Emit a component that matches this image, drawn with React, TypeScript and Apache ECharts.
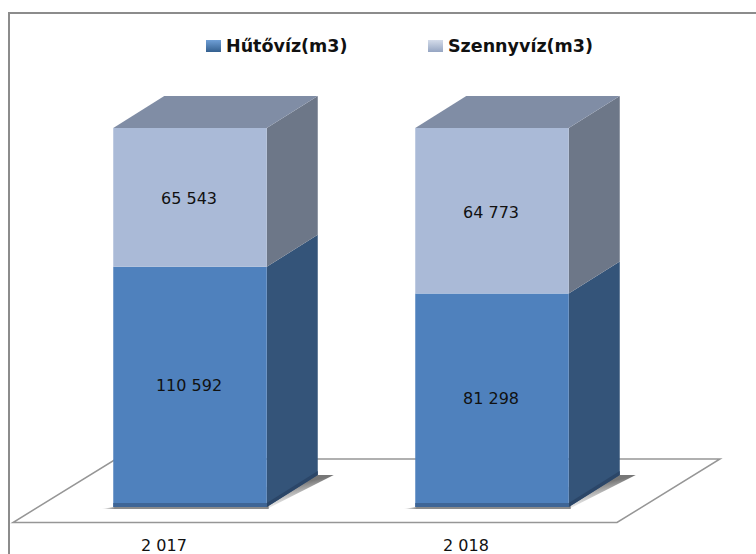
import React, { useEffect, useRef } from "react";
import * as echarts from "echarts";

const categories = ["2 017", "2 018"];
const seriesNames = ["Hűtővíz(m3)", "Szennyvíz(m3)"];
const hutoviz = [110592, 81298];
const szennyviz = [65543, 64773];
const hutovizLabels = ["110 592", "81 298"];
const szennyvizLabels = ["65 543", "64 773"];

const W = 756;
const H = 554;
const DX = 51;
const DY = 32;
const BAR = 153.5;
const OFFSET = 26;
const FOOT = 6;
const FONT = "DejaVu Sans";

const C1 = "#4f81bd", C1Side = "#345479", C1Top = "#3e6596";
const C2 = "#aabad7", C2Side = "#6d7788", C2Top = "#808da5";

function share(i: number, which: number) {
  const total = hutoviz[i] + szennyviz[i];
  return (which === 0 ? hutoviz[i] : szennyviz[i]) / total;
}

const fade = (x: number, y: number, x2: number, y2: number) => ({
  type: "linear", x, y, x2, y2,
  colorStops: [{ offset: 0, color: "rgba(95,95,95,0.85)" }, { offset: 1, color: "rgba(160,160,160,0)" }],
});

const makeRender = (which: number, labels: string[], fill: string, side: string, top: string) =>
  (params: any, api: any) => {
    const i = api.value(0);
    const start = api.value(1);
    const end = api.value(2);
    const p0 = api.coord([i, start]);
    const p1 = api.coord([i, end]);
    const cx = p0[0] + OFFSET;
    const x0 = cx - BAR / 2;
    const x1 = cx + BAR / 2;
    const yb = which === 0 ? p0[1] + FOOT : p0[1];
    const yt = p1[1];
    const children: any[] = [];
    if (which === 0) {
      children.push({
        type: "polygon",
        shape: { points: [[x1, yb + 2], [x1, yb - 20], [x1 + DX, yb - DY], [x1 + DX + 16, yb - DY]] },
        style: { fill: fade(0.1, 0.4, 0.35, 1) },
        silent: true,
      });
      children.push({
        type: "polygon",
        shape: { points: [[x0 - 12, yb + 2], [x0 + 8, yb - 1], [x1 + 2, yb - 1], [x1 + 2, yb + 2]] },
        style: {
          fill: {
            type: "linear", x: 0, y: 0, x2: 1, y2: 0,
            colorStops: [
              { offset: 0, color: "rgba(130,130,130,0)" },
              { offset: 0.08, color: "rgba(110,110,110,0.8)" },
              { offset: 1, color: "rgba(110,110,110,0.8)" },
            ],
          },
        },
        silent: true,
      });
    }
    children.push({
      type: "polygon",
      shape: { points: [[x1, yb], [x1 + DX, yb - DY], [x1 + DX, yt - DY], [x1, yt]] },
      style: { fill: side },
    });
    if (which === 1) {
      children.push({
        type: "polygon",
        shape: { points: [[x0, yt], [x0 + DX, yt - DY], [x1 + DX, yt - DY], [x1, yt]] },
        style: { fill: top },
      });
    }
    children.push({
      type: "rect",
      shape: { x: x0, y: yt, width: BAR, height: yb - yt },
      style: { fill },
    });
    if (which === 0) {
      children.push({
        type: "rect",
        shape: { x: x0, y: yb - 4, width: BAR, height: 4 },
        style: { fill: top },
      });
      children.push({
        type: "polygon",
        shape: { points: [[x1, yb], [x1 + DX, yb - DY], [x1 + DX, yb - DY - 4], [x1, yb - 4]] },
        style: { fill: "#2b4668" },
      });
    }
    children.push({
      type: "text",
      x: cx - 1,
      y: (p0[1] + yt) / 2 + 1.5,
      style: { text: labels[i], fill: "#111111", fontFamily: FONT, fontSize: 16, align: "center", verticalAlign: "middle" },
    });
    return { type: "group", children };
  };

const floorRender = (params: any, api: any) => {
  const c0 = api.coord([0, 0]);
  const c1 = api.coord([1, 0]);
  const band = c1[0] - c0[0];
  const left = c0[0] - band / 2;
  const right = c1[0] + band / 2;
  const y = c0[1] + 21.5;
  const yb = c0[1] - 42;
  return {
    type: "polygon",
    shape: { points: [[left, y], [right, y], [right + 103, yb], [left + 103, yb]] },
    style: { fill: "#ffffff", stroke: "#969696", lineWidth: 1.5 },
    silent: true,
  };
};

function rows(which: number) {
  return categories.map((_, i) => {
    const start = which === 0 ? 0 : share(i, 0);
    const end = start + share(i, which);
    return [i, start, end];
  });
}

const swatch = (c1: string, c2: string) => ({
  type: "linear", x: 0, y: 0, x2: 0, y2: 1,
  colorStops: [{ offset: 0, color: c1 }, { offset: 1, color: c2 }],
});

export default function App() {
  const ref = useRef<HTMLDivElement>(null);
  useEffect(() => {
    const chart = echarts.init(ref.current!, undefined, { renderer: "svg" });
    chart.setOption({
      animation: false,
      backgroundColor: "#ffffff",
      grid: { left: 13, right: 139, top: 128, bottom: 53 },
      xAxis: {
        type: "category",
        data: categories,
        axisLine: { show: false },
        axisTick: { show: false },
        axisLabel: { color: "#111111", fontFamily: FONT, fontSize: 16, margin: 36 },
      },
      yAxis: { type: "value", min: 0, max: 1, show: false },
      graphic: [
        {
          type: "polyline",
          silent: true,
          z: -10,
          shape: { points: [[9, 560], [9, 13], [756, 13]] },
          style: { fill: "none", stroke: "#8c8c8c", lineWidth: 2 },
        },
        ...[
          { x: 206, color: swatch("#6f9fd6", "#34608f"), name: seriesNames[0], tx: 226 },
          { x: 428, color: swatch("#d4dcea", "#95a5c2"), name: seriesNames[1], tx: 448 },
        ].map((l) => ({
          type: "group",
          children: [
            { type: "rect", shape: { x: l.x, y: 40, width: 15, height: 12 }, style: { fill: l.color } },
            { type: "text", x: l.tx, y: 46, style: { text: l.name, fill: "#111111", fontFamily: FONT, fontWeight: "bold", fontSize: 17.5, verticalAlign: "middle" } },
          ],
        })),
      ],
      series: [
        {
          type: "custom",
          name: "floor",
          silent: true,
          z: 1,
          renderItem: floorRender,
          data: [[0, 0]],
          encode: { x: 0, y: 1 },
        },
        {
          type: "custom",
          name: seriesNames[0],
          z: 2,
          renderItem: makeRender(0, hutovizLabels, C1, C1Side, C1Top),
          data: rows(0),
          encode: { x: 0, y: [1, 2] },
        },
        {
          type: "custom",
          name: seriesNames[1],
          z: 3,
          renderItem: makeRender(1, szennyvizLabels, C2, C2Side, C2Top),
          data: rows(1),
          encode: { x: 0, y: [1, 2] },
        },
      ],
    });
    return () => chart.dispose();
  }, []);
  return <div ref={ref} style={{ position: "fixed", left: 0, top: 0, width: W, height: H }} />;
}
